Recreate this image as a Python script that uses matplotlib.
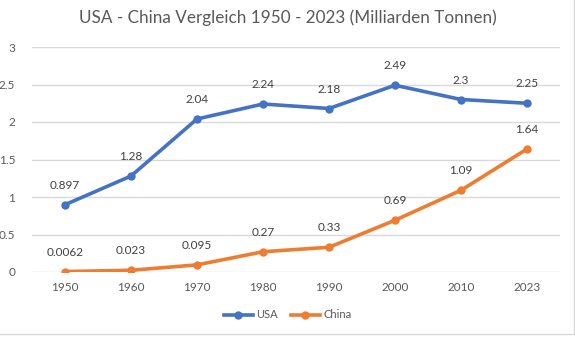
import matplotlib.pyplot as plt
from matplotlib.lines import Line2D

plt.rcParams['font.family'] = ['Lato', 'DejaVu Sans']

years = ['1950', '1960', '1970', '1980', '1990', '2000', '2010', '2023']
usa = [0.897, 1.28, 2.04, 2.24, 2.18, 2.49, 2.3, 2.25]
china = [0.0062, 0.023, 0.095, 0.27, 0.33, 0.69, 1.09, 1.64]
usa_labels = ['0.897', '1.28', '2.04', '2.24', '2.18', '2.49', '2.3', '2.25']
china_labels = ['0.0062', '0.023', '0.095', '0.27', '0.33', '0.69', '1.09', '1.64']

W, H = 575, 338
fig = plt.figure(figsize=(W / 100, H / 100), dpi=100)
ax = fig.add_axes([32 / W, (H - 272) / H, (560 - 32) / W, (272 - 47) / H])

x = range(len(years))
blue = '#4472C4'
orange = '#ED7D31'
ax.plot(x, usa, color=blue, lw=2.6, marker='o', ms=5, solid_capstyle='round', zorder=3)
ax.plot(x, china, color=orange, lw=2.6, marker='o', ms=5, solid_capstyle='round', zorder=3)

for i in x:
    ax.annotate(usa_labels[i], (i, usa[i]), xytext=(0, 10), textcoords='offset points',
                ha='center', va='bottom', fontsize=8.5, color='#404040')
    ax.annotate(china_labels[i], (i, china[i]), xytext=(0, 10), textcoords='offset points',
                ha='center', va='bottom', fontsize=8.5, color='#404040')

ax.set_xlim(-0.5, 7.5)
ax.set_ylim(0, 3)
ax.set_yticks([0, 0.5, 1, 1.5, 2, 2.5, 3])
ax.set_yticklabels(['0', '0.5', '1', '1.5', '2', '2.5', '3'])
ax.set_xticks(list(x))
ax.set_xticklabels(years)
ax.tick_params(length=0, labelsize=8.5, colors='#595959')
ax.tick_params(axis='y', pad=12)
ax.tick_params(axis='x', pad=7)
ax.grid(axis='y', color='#D9D9D9', lw=1)
ax.set_axisbelow(True)
for s in ax.spines.values():
    s.set_visible(False)

fig.text(0.5, (H - 18) / H, 'USA - China Vergleich 1950 - 2023 (Milliarden Tonnen)',
         ha='center', va='center', fontsize=12.3, color='#595959')

handles = [Line2D([], [], color=blue, lw=2.6, marker='o', ms=5),
           Line2D([], [], color=orange, lw=2.6, marker='o', ms=5)]
fig.legend(handles, ['USA', 'China'], loc='center', bbox_to_anchor=(0.5, (H - 315) / H),
           ncol=2, frameon=False, fontsize=8, labelcolor='#595959',
           handlelength=2.6, columnspacing=1.2, handletextpad=0.3)

# chart border (right and bottom visible)
fig.add_artist(Line2D([573.5 / W, 573.5 / W], [(H - 333) / H, 1], color='#D9D9D9', lw=1))
fig.add_artist(Line2D([0, 573.5 / W], [(H - 333.5) / H] * 2, color='#D9D9D9', lw=1))

fig.savefig('out.png', dpi=100)
